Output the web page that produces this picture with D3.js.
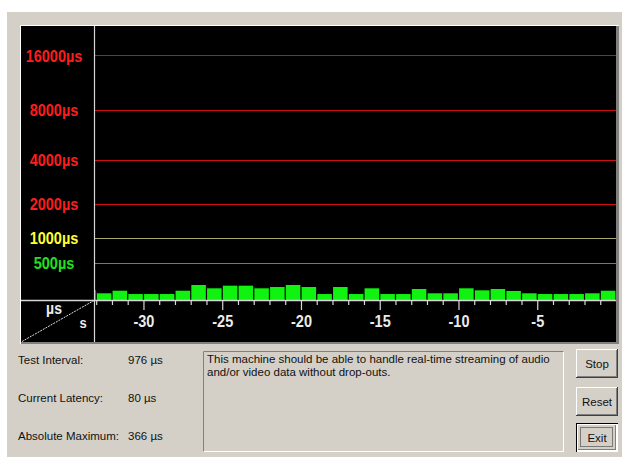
<!DOCTYPE html>
<html><head><meta charset="utf-8">
<script src="https://cdn.jsdelivr.net/npm/d3@7"></script>
<style>
html,body{margin:0;padding:0;background:#fff;}
svg{display:block;}
</style></head>
<body>
<svg id="c" width="622" height="457"></svg>
<script>
// ---- data ----
const secondStarts = d3.range(-34, 0); // each bar covers [s, s+1]
const latencyMax = [89, 48, 80, 39, 39, 39, 80, 155, 111, 146, 146, 111, 128, 155, 128, 39, 128, 39, 111, 39, 39, 102, 48, 48, 111, 85, 102, 77, 48, 39, 39, 39, 48, 80];
const gridValues = [16000, 8000, 4000, 2000, 1000, 500];
const gridLabels = ["16000µs", "8000µs", "4000µs", "2000µs", "1000µs", "500µs"];
const xTickValues = d3.range(-33, 0);
const infoLabels = ["Test Interval:", "Current Latency:", "Absolute Maximum:"];
const infoValues = ["976 µs", "80 µs", "366 µs"];
const messageLines = ["This machine should be able to handle real-time streaming of audio", "and/or video data without drop-outs."];
const buttonLabels = ["Stop", "Reset", "Exit"];

// ---- layout ----
const FONT = "'Liberation Sans', Arial, sans-serif";
const GRAY = "#d4d0c8";
const panel = {x0: 21, y0: 26, x1: 616, y1: 342};
const axisX = 94, axisY = 300;
const STRETCH = 1.15;

const svg = d3.select("#c");
svg.append("rect").attr("x", 7).attr("y", 12).attr("width", 615).attr("height", 445).attr("fill", GRAY);

// panel frame
svg.append("rect").attr("x", 20).attr("y", 25).attr("width", 599).attr("height", 319).attr("fill", "#fff");
svg.append("rect").attr("x", 21).attr("y", 26).attr("width", 598).attr("height", 318).attr("fill", "#808080");
svg.append("rect").attr("x", panel.x0).attr("y", panel.y0).attr("width", panel.x1 - panel.x0).attr("height", panel.y1 - panel.y0).attr("fill", "#000");

const x = d3.scaleLinear().domain([-33.14, 0]).range([axisX, panel.x1]);
const y = d3.scaleSymlog().constant(1000).domain([0, 16000]).range([297.3, 55.4]);

const colorFor = v => v >= 2000 ? "#ff1c1c" : (v >= 1000 ? "#ffff33" : "#22e022");
const lineColorFor = v => v >= 2000 ? "#d01010" : (v >= 1000 ? "#a8a86a" : "#22b022");

// gridlines
svg.append("g").selectAll("line").data(gridValues).join("line")
  .attr("x1", axisX).attr("x2", panel.x1)
  .attr("y1", d => Math.round(y(d)) + 0.5).attr("y2", d => Math.round(y(d)) + 0.5)
  .attr("stroke", lineColorFor).attr("stroke-width", 1.2);

// y labels (slightly tall, condensed look)
svg.append("g").selectAll("text").data(gridValues).join("text")
  .attr("transform", d => `translate(54,${y(d)}) scale(1,${STRETCH})`)
  .attr("dy", "0.37em")
  .attr("text-anchor", "middle")
  .attr("font-family", FONT).attr("font-weight", "bold").attr("font-size", 14.5)
  .attr("fill", colorFor)
  .text((d, i) => gridLabels[i]);

// bars
svg.append("clipPath").attr("id", "plotclip").append("rect")
  .attr("x", axisX + 1).attr("y", panel.y0).attr("width", panel.x1 - axisX - 1).attr("height", axisY - panel.y0);
svg.append("g").attr("clip-path", "url(#plotclip)")
  .selectAll("rect").data(secondStarts).join("rect")
  .attr("x", d => x(d) + 0.6)
  .attr("width", d => x(d + 1) - x(d) - 1.2)
  .attr("y", (d, i) => y(latencyMax[i]))
  .attr("height", (d, i) => axisY - y(latencyMax[i]))
  .attr("fill", "#10f210");

// axes lines
svg.append("line").attr("x1", axisX + 0.5).attr("x2", axisX + 0.5).attr("y1", panel.y0).attr("y2", panel.y1)
  .attr("stroke", "#d8d8d8").attr("stroke-width", 1.2);
svg.append("line").attr("x1", panel.x0).attr("x2", panel.x1).attr("y1", axisY + 0.5).attr("y2", axisY + 0.5)
  .attr("stroke", "#d8d8d8").attr("stroke-width", 1.5);

// x axis ticks + labels
const xAxis = d3.axisBottom(x).tickValues(xTickValues).tickSize(5)
  .tickFormat(d => d % 5 === 0 ? String(d) : "");
const gx = svg.append("g").attr("transform", `translate(0,${axisY})`).call(xAxis);
gx.select(".domain").remove();
gx.selectAll(".tick line").attr("stroke", "#d8d8d8").attr("stroke-width", 1.2)
  .attr("y2", d => d % 5 === 0 ? 10 : 5);
gx.selectAll(".tick text").attr("fill", "#ececec").attr("font-family", FONT)
  .attr("font-weight", "bold").attr("font-size", 14.5)
  .attr("y", null).attr("dy", null)
  .attr("transform", `translate(0,26.5) scale(1,${STRETCH})`);

// corner
svg.append("line").attr("x1", panel.x0 + 1).attr("y1", panel.y1 - 0.5).attr("x2", axisX).attr("y2", axisY + 0.5)
  .attr("stroke", "#e0e0e0").attr("stroke-width", 1).attr("stroke-dasharray", "2,1");
svg.append("text").attr("transform", `translate(54,314) scale(1,${STRETCH})`).attr("text-anchor", "middle")
  .attr("font-family", FONT).attr("font-weight", "bold").attr("font-size", 14).attr("fill", "#ececec").text("µs");
svg.append("text").attr("transform", `translate(83,327.5) scale(1,${STRETCH})`).attr("text-anchor", "middle")
  .attr("font-family", FONT).attr("font-weight", "bold").attr("font-size", 13).attr("fill", "#ececec").text("s");

// info labels
const infoY = [364, 402, 440];
svg.append("g").selectAll("text").data(infoLabels).join("text")
  .attr("x", 18).attr("y", (d, i) => infoY[i])
  .attr("font-family", FONT).attr("font-size", 11.5).attr("fill", "#111").text(d => d);
svg.append("g").selectAll("text").data(infoValues).join("text")
  .attr("x", 128).attr("y", (d, i) => infoY[i])
  .attr("font-family", FONT).attr("font-size", 11.5).attr("fill", "#111").text(d => d);

// message box (sunken)
svg.append("rect").attr("x", 203.5).attr("y", 351.5).attr("width", 360).attr("height", 100)
  .attr("fill", GRAY).attr("stroke", "#fff");
svg.append("path").attr("d", "M203.5,451.5 V351.5 H563.5").attr("fill", "none").attr("stroke", "#808080");
svg.append("g").selectAll("text").data(messageLines).join("text")
  .attr("x", 207).attr("y", (d, i) => 362.5 + i * 13)
  .attr("font-family", FONT).attr("font-size", 11.5).attr("fill", "#111").text(d => d);

// buttons
const btnY = [349, 387, 423];
const bg = svg.append("g").selectAll("g").data(buttonLabels).join("g")
  .attr("transform", (d, i) => `translate(576,${btnY[i]})`);
const bw = 42, bh = 29;
bg.append("rect").attr("width", bw).attr("height", bh).attr("fill", (d, i) => i === 2 ? "#000" : "#404040");
bg.append("rect").attr("width", bw - 1).attr("height", bh - 1).attr("fill", "#fff")
  .attr("x", (d, i) => i === 2 ? 1 : 0).attr("y", (d, i) => i === 2 ? 1 : 0);
bg.append("rect").attr("x", (d, i) => i === 2 ? 2 : 1).attr("y", (d, i) => i === 2 ? 2 : 1)
  .attr("width", (d, i) => i === 2 ? bw - 4 : bw - 2).attr("height", (d, i) => i === 2 ? bh - 4 : bh - 2).attr("fill", "#808080");
bg.append("rect").attr("x", (d, i) => i === 2 ? 2 : 1).attr("y", (d, i) => i === 2 ? 2 : 1)
  .attr("width", (d, i) => i === 2 ? bw - 5 : bw - 3).attr("height", (d, i) => i === 2 ? bh - 5 : bh - 3).attr("fill", GRAY);
bg.filter((d, i) => i === 2).append("rect").attr("x", 4.5).attr("y", 4.5).attr("width", bw - 10).attr("height", bh - 10)
  .attr("fill", "none").attr("stroke", "#222").attr("stroke-dasharray", "1,1");
bg.append("text").attr("x", bw / 2).attr("y", bh / 2 + 4.5).attr("text-anchor", "middle")
  .attr("font-family", FONT).attr("font-size", 11.5).attr("fill", "#111").text(d => d);
</script>
</body></html>
